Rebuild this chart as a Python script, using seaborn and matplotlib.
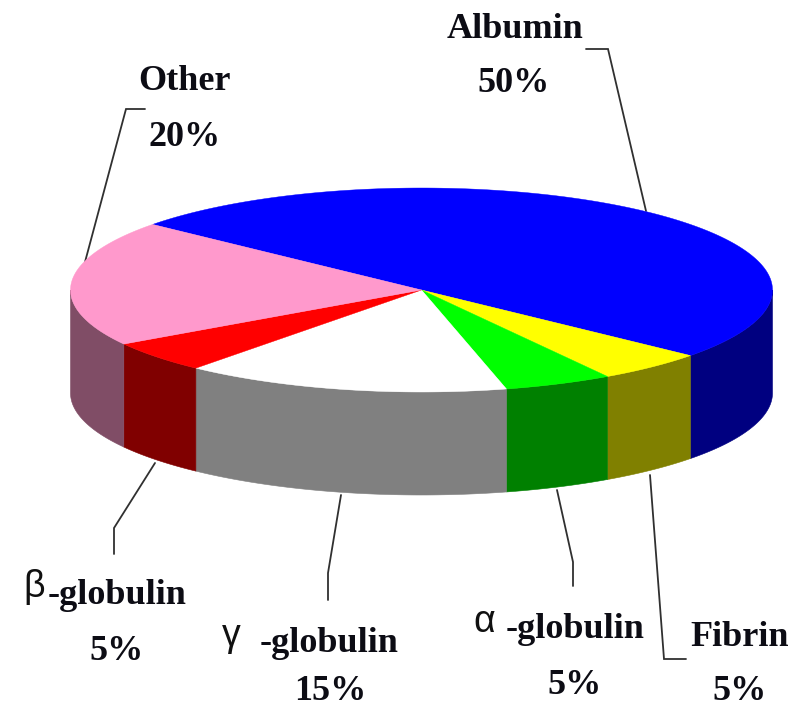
import numpy as np
import pandas as pd
import seaborn as sns
import matplotlib
matplotlib.use("Agg")
import matplotlib.pyplot as plt

# Plasma protein shares, clockwise from the back-left of the disc
proteins = ["Albumin", "Fibrin", "α-globulin", "γ-globulin", "β-globulin", "Other"]
shares = [50, 5, 5, 15, 5, 20]
top_colors = ["#0000FF", "#FFFF00", "#00FF00", "#FFFFFF", "#FF0000", "#FF99CC"]
side_colors = ["#000080", "#808000", "#008000", "#808080", "#800000", "#804D66"]

sns.set_theme(style="white")
top_palette = sns.color_palette(top_colors)
side_palette = sns.color_palette(side_colors)
table = pd.DataFrame({"protein": proteins, "share": shares})

# Disc geometry in figure pixels
CX, CY = 421.5, 290.0
RX, RY = 351.0, 102.0
DEPTH = 103.0
START_ANGLE = 140.0

table["end"] = START_ANGLE - table["share"].cumsum() * 3.6
table["begin"] = table["end"] + table["share"] * 3.6

fig = plt.figure(figsize=(7.98, 7.10), dpi=100)
ax = fig.add_axes([0, 0, 1, 1])
ax.set_xlim(0, 798)
ax.set_ylim(710, 0)
ax.axis("off")


def rim(a_from, a_to, drop=0.0):
    t = np.radians(np.linspace(a_from, a_to, 160))
    return CX + RX * np.cos(t), CY - RY * np.sin(t) + drop


# Outer wall: only the part of each slice on the front half is visible
for row, side in zip(table.itertuples(), side_palette):
    lo = max(row.end, -180.0)
    hi = min(row.begin, 0.0)
    if lo < hi:
        x1, y1 = rim(hi, lo)
        x2, y2 = rim(lo, hi, DEPTH)
        ax.fill(np.r_[x1, x2], np.r_[y1, y2], color=side, lw=0.4, zorder=2)

# Top face
for row, top in zip(table.itertuples(), top_palette):
    x, y = rim(row.begin, row.end)
    ax.fill(np.r_[CX, x], np.r_[CY, y], color=top, lw=0.3, zorder=3)

# Leader lines from the disc to each label
leaders = [
    ([646, 608, 586], [211, 49, 49]),
    ([650, 664, 686], [475, 659, 659]),
    ([557, 573, 573], [490, 562, 586]),
    ([341, 328, 328], [495, 573, 600]),
    ([155, 114, 114], [463, 528, 554]),
    ([85, 126, 145], [262, 109, 109]),
]
for lx, ly in leaders:
    ax.plot(lx, ly, color="#303030", lw=1.3, zorder=1, solid_joinstyle="miter")

serif = dict(family="Liberation Serif", fontweight="bold", fontsize=26,
             color="#0c0c14", ha="center", va="center")
greek = dict(family="Liberation Sans", fontsize=27, color="#101010",
             ha="center", va="center")

name_positions = [(515, 29), (740, 638), (575, 629), (329, 644), (117, 595), (185, 82)]
value_positions = [(514, 83), (740, 692), (575, 685), (330, 692), (117, 652), (185, 137)]
for name, share, (nx, ny), (vx, vy) in zip(proteins, shares, name_positions, value_positions):
    label = name[1:] if "-" in name else name
    ax.text(nx, ny, label, **serif)
    ax.text(vx, vy, f"{share}%", **serif)

for symbol, (gx, gy) in zip(["α", "γ", "β"], [(484, 622), (231, 636), (34, 587)]):
    ax.text(gx, gy, symbol, **greek)

fig.savefig("out.png", dpi=100)
